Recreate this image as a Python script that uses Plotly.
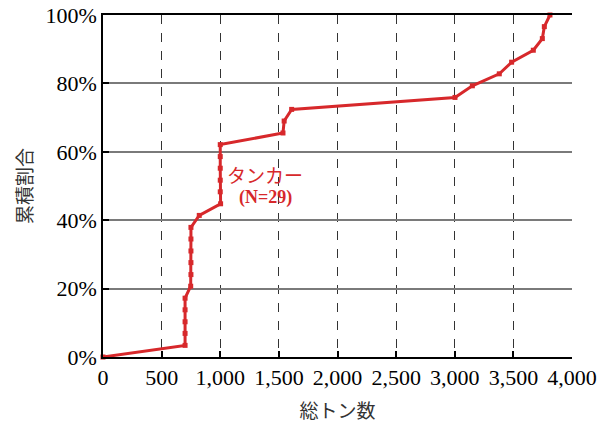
import plotly.graph_objects as go

# Gross tonnage (x) and cumulative share in % (y) for tankers, N=29
tonnage = [0, 700, 700, 700, 700, 700, 748, 750, 750, 750, 750, 750, 821, 1003,
           1000, 1000, 1000, 1000, 1000, 1535, 1545, 1609, 3002, 3150, 3380, 3485,
           3670, 3747, 3764, 3812]
cum_share = [0, 3.4, 6.9, 10.3, 13.8, 17.2, 20.7, 24.1, 27.6, 31.0, 34.5, 37.9,
             41.4, 44.8, 48.3, 51.7, 55.2, 58.6, 62.1, 65.5, 69.0, 72.4, 75.9,
             79.3, 82.8, 86.2, 89.7, 93.1, 96.6, 100.0]
x_ticks = [0, 500, 1000, 1500, 2000, 2500, 3000, 3500, 4000]
x_tick_labels = ["0", "500", "1,000", "1,500", "2,000", "2,500", "3,000", "3,500", "4,000"]
y_ticks = [0, 20, 40, 60, 80, 100]
y_tick_labels = ["0%", "20%", "40%", "60%", "80%", "100%"]

RED = "#d7282b"
SERIF = "Liberation Serif, Times New Roman, serif"
CJK = "Noto Sans CJK JP, sans-serif"

fig = go.Figure()
fig.add_trace(go.Scatter(
    x=tonnage, y=cum_share, mode="lines+markers",
    line=dict(color=RED, width=3),
    marker=dict(symbol="square", size=5, color=RED),
    cliponaxis=False, showlegend=False,
))

fig.add_annotation(x=1385, y=53.5, text="タンカー", showarrow=False,
                   font=dict(family=CJK, size=19, color=RED))
fig.add_annotation(x=1385, y=46.5, text="<b>(N=29)</b>", showarrow=False,
                   font=dict(family=SERIF, size=18, color=RED))

fig.update_layout(
    width=613, height=428,
    margin=dict(l=103, r=41, t=15, b=71),
    paper_bgcolor="white", plot_bgcolor="white",
    font=dict(family=SERIF, size=22, color="black"),
    xaxis=dict(
        range=[0, 4000], tickvals=x_ticks, ticktext=x_tick_labels,
        showgrid=True, gridcolor="#333333", griddash="dash", gridwidth=1,
        showline=True, linecolor="black", linewidth=1.5, mirror=True,
        ticks="inside", ticklen=6, tickcolor="black", tickwidth=1.5,
        zeroline=False, automargin=False, ticklabeloverflow="allow",
        title=dict(text="総トン数", font=dict(family=CJK, size=19, color="#333333"), standoff=16),
    ),
    yaxis=dict(
        range=[0, 100], tickvals=y_ticks, ticktext=y_tick_labels,
        showgrid=True, gridcolor="#7a7a7a", gridwidth=1.5,
        showline=True, linecolor="black", linewidth=1.5, mirror=False,
        ticks="inside", ticklen=6, tickcolor="black", tickwidth=1.5,
        zeroline=False, automargin=False, ticklabeloverflow="allow",
        title=dict(text="累積割合", font=dict(family=CJK, size=19, color="#333333"), standoff=8),
    ),
)

fig.write_html("out.html", config={"displayModeBar": False},
               post_script="document.body.style.margin='0';document.body.style.overflow='hidden';")
